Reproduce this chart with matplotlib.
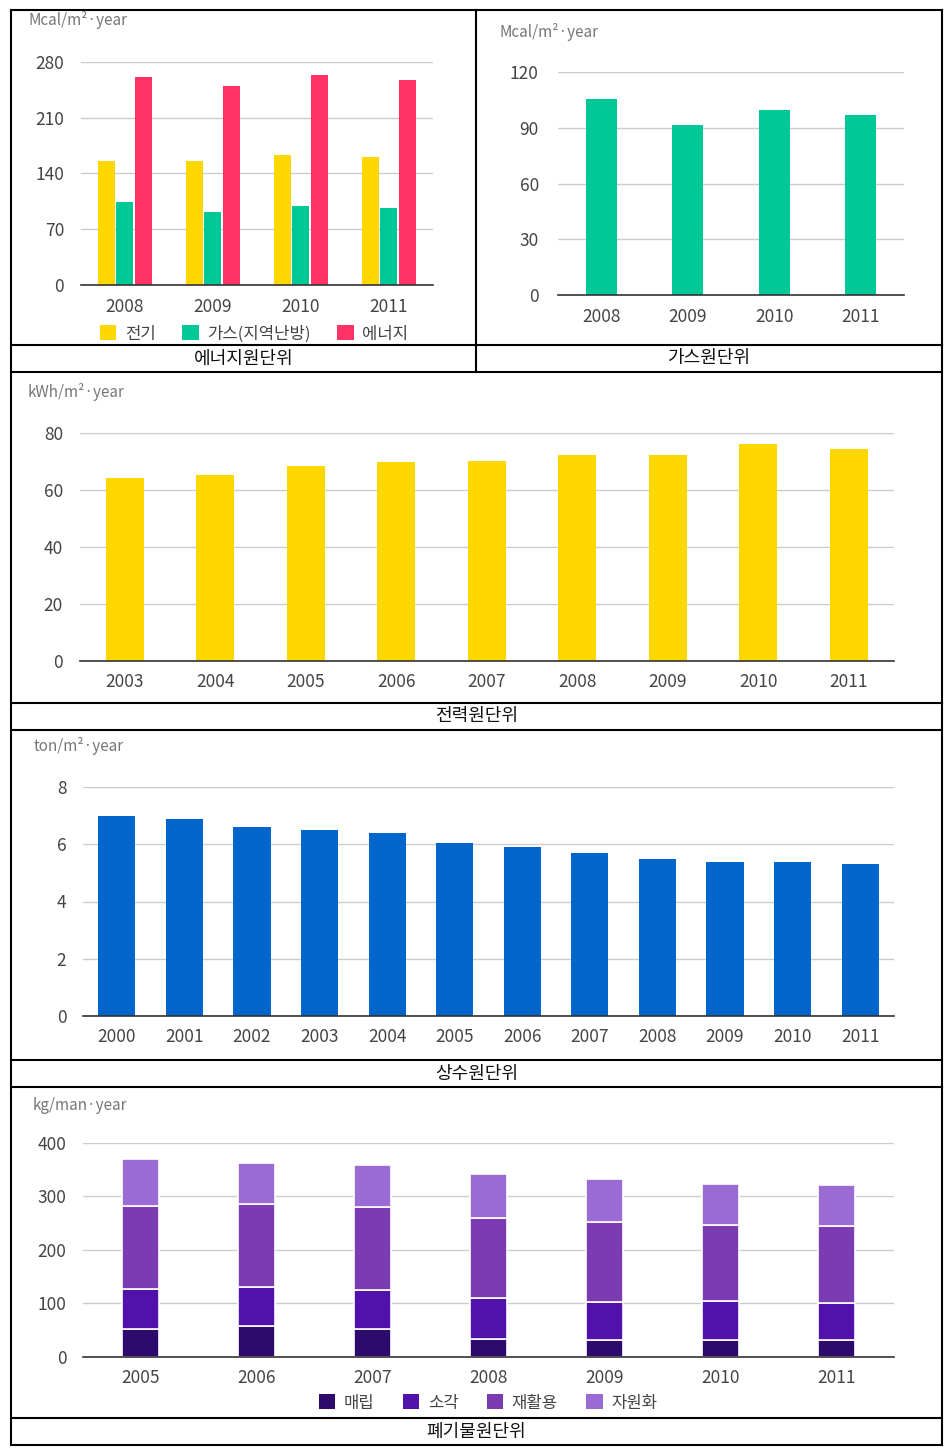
import matplotlib
matplotlib.use("Agg")
import matplotlib.pyplot as plt
import numpy as np
from matplotlib.lines import Line2D

plt.rcParams['font.family'] = ['Noto Sans CJK KR', 'DejaVu Sans']

# ---------------- data ----------------
energy_years = ['2008', '2009', '2010', '2011']
energy_elec = [155.5, 155.5, 163, 161]
energy_gas = [104.5, 92, 99, 97]
energy_total = [261, 249, 263, 257.5]
energy_labels = ['전기', '가스(지역난방)', '에너지']

gas_years = ['2008', '2009', '2010', '2011']
gas_values = [105.6, 91.6, 99.5, 97]

elec_years = ['2003', '2004', '2005', '2006', '2007', '2008', '2009', '2010', '2011']
elec_values = [64.0, 65.2, 68.3, 69.7, 70.2, 72.3, 72.3, 76.0, 74.4]

water_years = ['2000', '2001', '2002', '2003', '2004', '2005', '2006', '2007',
               '2008', '2009', '2010', '2011']
water_values = [7.0, 6.9, 6.6, 6.5, 6.4, 6.05, 5.9, 5.7, 5.5, 5.4, 5.4, 5.3]

waste_years = ['2005', '2006', '2007', '2008', '2009', '2010', '2011']
waste_landfill = [52, 57, 52, 33, 31, 31, 31]
waste_incin = [75, 73, 73, 76, 72, 73, 70]
waste_recycle = [156, 155, 155, 151, 150, 143, 143]
waste_resource = [87, 77, 79, 82, 80, 77, 77]
waste_labels = ['매립', '소각', '재활용', '자원화']

captions = ['에너지원단위', '가스원단위', '전력원단위', '상수원단위', '폐기물원단위']

# ---------------- layout helpers ----------------
W, H = 950, 1453
fig = plt.figure(figsize=(W / 100, H / 100), dpi=100)
fig.patch.set_facecolor('white')

def fx(x):
    return x / W

def fy(y):
    return 1 - y / H

def make_ax(x0, x1, ytop, ybase):
    ax = fig.add_axes([fx(x0), fy(ybase), (x1 - x0) / W, (ybase - ytop) / H])
    for s in ['top', 'right', 'left']:
        ax.spines[s].set_visible(False)
    ax.spines['bottom'].set_color('#333333')
    ax.spines['bottom'].set_linewidth(1.2)
    ax.spines['bottom'].set_zorder(5)
    ax.grid(axis='y', color='#cccccc', linewidth=1.0)
    ax.set_axisbelow(True)
    ax.tick_params(axis='both', length=0, labelcolor='#444444', labelsize=12.5)
    ax.tick_params(axis='y', pad=12)
    ax.tick_params(axis='x', pad=9)
    return ax

def unit_label(x, y, s):
    fig.text(fx(x), fy(y), s, fontsize=11, color='#777777', ha='left', va='center')

TICK_COLOR = '#444444'
YELLOW = '#FFD700'
GREEN = '#00C896'
RED = '#FF3366'
BLUE = '#0066CC'
PURPLES = ['#2D0A6B', '#5012AB', '#7A3BB3', '#9B6BD5']

# ---------------- chart 1: energy ----------------
ax1 = make_ax(80.7, 432.7, 61.7, 285)
x = np.arange(len(energy_years))
off = 0.21
w = 0.195
b1 = ax1.bar(x - off, energy_elec, w, color=YELLOW, label=energy_labels[0])
b2 = ax1.bar(x, energy_gas, w, color=GREEN, label=energy_labels[1])
b3 = ax1.bar(x + off, energy_total, w, color=RED, label=energy_labels[2])
ax1.set_xlim(-0.5, len(x) - 0.5)
ax1.set_ylim(0, 280)
ax1.set_yticks([0, 70, 140, 210, 280])
ax1.set_xticks(x)
ax1.set_xticklabels(energy_years)
unit_label(28, 20, 'Mcal/m²·year')
fig.legend(handles=[b1, b2, b3], labels=energy_labels, loc='center',
           bbox_to_anchor=(fx(254), fy(334)), ncol=3, frameon=False,
           fontsize=12, labelcolor=TICK_COLOR, handlelength=1.0, handleheight=1.0,
           handletextpad=0.5, columnspacing=1.6, borderpad=0, borderaxespad=0)

# ---------------- chart 2: gas ----------------
ax2 = make_ax(558.3, 903.7, 72.3, 295)
x = np.arange(len(gas_years))
ax2.bar(x, gas_values, 0.36, color=GREEN)
ax2.set_xlim(-0.5, len(x) - 0.5)
ax2.set_ylim(0, 120)
ax2.set_yticks([0, 30, 60, 90, 120])
ax2.set_xticks(x)
ax2.set_xticklabels(gas_years)
ax2.tick_params(axis='y', pad=14)
unit_label(499, 31.7, 'Mcal/m²·year')

# ---------------- chart 3: electricity ----------------
ax3 = make_ax(79.6, 894, 432.7, 661)
x = np.arange(len(elec_years))
ax3.bar(x, elec_values, 0.42, color=YELLOW)
ax3.set_xlim(-0.5, len(x) - 0.5)
ax3.set_ylim(0, 80)
ax3.set_yticks([0, 20, 40, 60, 80])
ax3.set_xticks(x)
ax3.set_xticklabels(elec_years)
unit_label(28, 391.7, 'kWh/m²·year')

# ---------------- chart 4: water ----------------
ax4 = make_ax(83, 894, 787.3, 1015.7)
x = np.arange(len(water_years))
ax4.bar(x, water_values, 0.55, color=BLUE)
ax4.set_xlim(-0.5, len(x) - 0.5)
ax4.set_ylim(0, 8)
ax4.set_yticks([0, 2, 4, 6, 8])
ax4.set_xticks(x)
ax4.set_xticklabels(water_years)
unit_label(34, 746, 'ton/m²·year')

# ---------------- chart 5: waste ----------------
ax5 = make_ax(83, 894, 1143, 1356.7)
x = np.arange(len(waste_years))
bottom = np.zeros(len(x))
handles = []
for vals, col, lab in zip([waste_landfill, waste_incin, waste_recycle, waste_resource],
                          PURPLES, waste_labels):
    h = ax5.bar(x, vals, 0.32, bottom=bottom, color=col, edgecolor='white',
                linewidth=1.2, label=lab)
    handles.append(h)
    bottom = bottom + np.array(vals)
ax5.set_xlim(-0.5, len(x) - 0.5)
ax5.set_ylim(0, 400)
ax5.set_yticks([0, 100, 200, 300, 400])
ax5.set_xticks(x)
ax5.set_xticklabels(waste_years)
unit_label(32.6, 1105, 'kg/man·year')
leg5 = fig.legend(handles=handles, labels=waste_labels, loc='center',
                  bbox_to_anchor=(fx(488), fy(1403)), ncol=4, frameon=False,
                  fontsize=12, labelcolor=TICK_COLOR, handlelength=1.0, handleheight=1.0,
                  handletextpad=0.5, columnspacing=1.7, borderpad=0, borderaxespad=0)
for p in leg5.get_patches():
    p.set_edgecolor('none')

# ---------------- table frame ----------------
def hline(y, x0=11, x1=942):
    fig.add_artist(Line2D([fx(x0), fx(x1)], [fy(y), fy(y)], color='black', lw=1.5,
                          transform=fig.transFigure))

def vline(x, y0, y1):
    fig.add_artist(Line2D([fx(x), fx(x)], [fy(y0), fy(y1)], color='black', lw=1.5,
                          transform=fig.transFigure))

for y in [10, 345, 372, 703, 730, 1060, 1087, 1418, 1445]:
    hline(y)
vline(11, 10, 1445)
vline(942, 10, 1445)
vline(476, 10, 372)

cap_pos = [((11 + 476) / 2, 358.5), ((476 + 942) / 2, 358.5), ((11 + 942) / 2, 716.5),
           ((11 + 942) / 2, 1073.5), ((11 + 942) / 2, 1431.5)]
for (cx, cy), cap in zip(cap_pos, captions):
    fig.text(fx(cx), fy(cy), cap, fontsize=13, color='#111111', ha='center', va='center',
             fontweight='light')

fig.savefig('out.png', dpi=100, facecolor='white')
